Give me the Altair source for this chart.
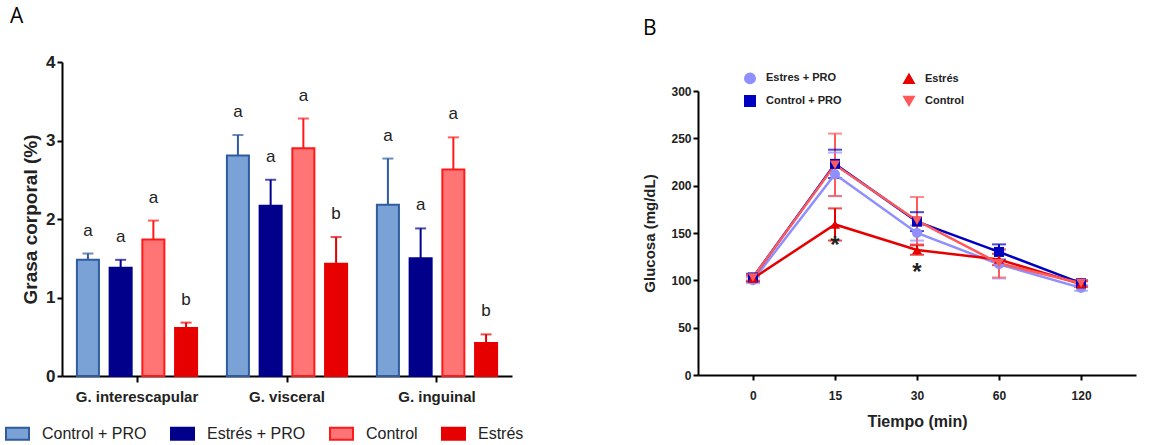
import altair as alt
import pandas as pd

# ---------------- Panel A data ----------------
groups = ["G. interescapular", "G. visceral", "G. inguinal"]
series_a = ["Control + PRO", "Estrés + PRO", "Control", "Estrés"]
fat_ctrl_pro = [1.48, 2.81, 2.18]
fat_est_pro = [1.38, 2.17, 1.50]
fat_ctrl = [1.74, 2.90, 2.63]
fat_est = [0.61, 1.43, 0.42]
err_ctrl_pro = [0.08, 0.26, 0.59]
err_est_pro = [0.10, 0.33, 0.38]
err_ctrl = [0.24, 0.38, 0.41]
err_est = [0.07, 0.34, 0.11]
letters_ctrl_pro = ["a", "a", "a"]
letters_est_pro = ["a", "a", "a"]
letters_ctrl = ["a", "a", "a"]
letters_est = ["b", "b", "b"]

fill_a = ["#7ba2d6", "#00008b", "#ff7575", "#e60000"]
stroke_a = ["#2e5c9e", "#00008b", "#ff1a1a", "#e60000"]

rows = []
for s, vals, errs, lets in zip(series_a,
                               [fat_ctrl_pro, fat_est_pro, fat_ctrl, fat_est],
                               [err_ctrl_pro, err_est_pro, err_ctrl, err_est],
                               [letters_ctrl_pro, letters_est_pro, letters_ctrl, letters_est]):
    for g, v, e, l in zip(groups, vals, errs, lets):
        rows.append({"grupo": g, "serie": s, "valor": v, "sup": v + e, "letra": l})
dfa = pd.DataFrame(rows)

FONT = "Liberation Sans"

xa = alt.X("grupo:N", sort=groups,
           scale=alt.Scale(paddingInner=0.1333, paddingOuter=0.0667),
           axis=alt.Axis(title=None, labelAngle=0, labelFont=FONT, labelFontSize=15,
                         labelFontWeight="bold", labelColor="#222", domainColor="black",
                         domainWidth=2, tickColor="black", tickWidth=2, tickSize=6,
                         labelPadding=7))
xoff = alt.XOffset("serie:N", sort=series_a,
                   scale=alt.Scale(paddingInner=0.327, paddingOuter=0.15))
ya_scale = alt.Scale(domain=[0, 4], nice=False)
ya_axis = alt.Axis(title="Grasa corporal (%)", values=[0, 1, 2, 3, 4], format="d",
                   titleFont=FONT, titleFontSize=19, titleFontWeight="bold",
                   titleColor="#222", titlePadding=5,
                   labelFont=FONT, labelFontSize=17, labelFontWeight="bold",
                   labelColor="#222", domainColor="black", domainWidth=2,
                   tickColor="black", tickWidth=2, tickSize=5, labelPadding=2,
                   grid=False)

leg_a = alt.Legend(title=None, orient="none", direction="horizontal",
                   legendX=-57, legendY=359,
                   symbolType="M-1,-0.52H1V0.52H-1Z", symbolSize=529,
                   symbolStrokeWidth=2, labelFont=FONT,
                   labelFontSize=16, labelColor="#222",
                   labelOffset=12, columnPadding=20)

bars = alt.Chart(dfa).mark_bar(strokeWidth=2).encode(
    x=xa, xOffset=xoff,
    y=alt.Y("valor:Q", scale=ya_scale, axis=ya_axis),
    fill=alt.Fill("serie:N", sort=series_a,
                  scale=alt.Scale(domain=series_a, range=fill_a), legend=leg_a),
    stroke=alt.Stroke("serie:N", sort=series_a,
                      scale=alt.Scale(domain=series_a, range=stroke_a), legend=leg_a),
)

err_color = alt.Color("serie:N", sort=series_a,
                      scale=alt.Scale(domain=series_a, range=stroke_a), legend=None)
err_rule = alt.Chart(dfa).mark_rule(strokeWidth=2).encode(
    x=xa, xOffset=xoff, y=alt.Y("valor:Q", scale=ya_scale), y2="sup:Q", color=err_color)
err_cap = alt.Chart(dfa).mark_tick(size=11, thickness=2).encode(
    x=xa, xOffset=xoff, y=alt.Y("sup:Q", scale=ya_scale), color=err_color)
lets = alt.Chart(dfa).mark_text(font=FONT, fontSize=17, color="#222",
                                baseline="alphabetic", dy=-18).encode(
    x=xa, xOffset=xoff, y=alt.Y("sup:Q", scale=ya_scale), text="letra:N")

panel_a = alt.layer(bars, err_rule, err_cap, lets).properties(
    width=450, height=314,
    title=alt.TitleParams("A", anchor="start", frame="group", dx=-52, offset=26,
                          font="Open Sans", fontSize=21, fontWeight="normal",
                          color="black"))

# ---------------- Panel B data ----------------
times = ["0", "15", "30", "60", "120"]
series_b = ["Estres + PRO", "Control + PRO", "Estrés", "Control"]
glu_est_pro = [100, 212, 150, 117, 92]
glu_ctrl_pro = [103, 223, 162, 130, 97]
glu_est = [102, 159, 132, 122, 96]
glu_ctrl = [103, 222, 163, 118, 97]
sem_est_pro = [3, 23, 8, 15, 3]
sem_ctrl_pro = [4, 15, 10, 8, 3]
sem_est = [3, 17, 5, 6, 3]
sem_ctrl = [3, 33, 25, 15, 3]
colors_b = ["#8f8fff", "#0000c0", "#e60000", "#ff5a5a"]
shapes_b = ["circle", "square", "triangle-up", "triangle-down"]
star_times = ["15", "30"]
star_y = [144, 115]

rowsb = []
for s, vals, sems in zip(series_b,
                         [glu_est_pro, glu_ctrl_pro, glu_est, glu_ctrl],
                         [sem_est_pro, sem_ctrl_pro, sem_est, sem_ctrl]):
    for t, v, e in zip(times, vals, sems):
        rowsb.append({"t": t, "serie": s, "g": v, "lo": v - e, "hi": v + e})
dfb = pd.DataFrame(rowsb)
dfs = pd.DataFrame({"t": star_times, "y": star_y})

xb = alt.X("t:O", sort=times, scale=alt.Scale(type="point", padding=0.67),
           axis=alt.Axis(title="Tiempo (min)", labelAngle=0, titleFont=FONT,
                         titleFontSize=16, titleFontWeight="bold", titleColor="#222",
                         titlePadding=12, labelFont=FONT, labelFontSize=12,
                         labelFontWeight="bold", labelColor="#222", labelPadding=10,
                         domainColor="black", domainWidth=2, tickColor="black",
                         tickWidth=2, tickSize=5))
yb_scale = alt.Scale(domain=[0, 300], nice=False)
yb_axis = alt.Axis(title="Glucosa (mg/dL)", values=list(range(0, 301, 50)),
                   titleFont=FONT, titleFontSize=15, titleFontWeight="bold",
                   titleColor="#222", titlePadding=13, labelFont=FONT, labelFontSize=12,
                   labelFontWeight="bold", labelColor="#222", domainColor="black",
                   domainWidth=2, tickColor="black", tickWidth=2, tickSize=5,
                   labelPadding=2, grid=False)
leg_b = alt.Legend(title=None, orient="none", legendX=46, legendY=10,
                   columns=2, columnPadding=58, rowPadding=5,
                   labelFont=FONT, labelFontSize=11, labelFontWeight="bold",
                   labelColor="#222", symbolSize=110, labelOffset=10,
                   symbolOpacity=1)
cb = alt.Color("serie:N", sort=series_b,
               scale=alt.Scale(domain=series_b, range=colors_b), legend=leg_b)
sb = alt.Shape("serie:N", sort=series_b,
               scale=alt.Scale(domain=series_b, range=shapes_b), legend=leg_b)

lines = alt.Chart(dfb).mark_line(strokeWidth=2.5).encode(
    x=xb, y=alt.Y("g:Q", scale=yb_scale, axis=yb_axis), color=cb)
pts = alt.Chart(dfb).mark_point(filled=True, size=100, opacity=1).encode(
    x=xb, y=alt.Y("g:Q", scale=yb_scale), color=cb, shape=sb)
erule = alt.Chart(dfb).mark_rule(strokeWidth=2).encode(
    x=xb, y=alt.Y("lo:Q", scale=yb_scale), y2="hi:Q", color=cb)
ecap_lo = alt.Chart(dfb).mark_tick(size=14, thickness=2).encode(
    x=xb, y=alt.Y("lo:Q", scale=yb_scale), color=cb)
ecap_hi = alt.Chart(dfb).mark_tick(size=14, thickness=2).encode(
    x=xb, y=alt.Y("hi:Q", scale=yb_scale), color=cb)
stars = alt.Chart(dfs).mark_text(text="*", font=FONT, fontSize=24, fontWeight="bold",
                                 color="#222", baseline="middle", dy=7).encode(
    x=xb, y=alt.Y("y:Q", scale=yb_scale))

panel_b = alt.layer(erule, ecap_lo, ecap_hi, lines, pts, stars).properties(
    width=438, height=284)

spacer_df = pd.DataFrame({"s": [0]})
spacer = alt.Chart(spacer_df).mark_point(opacity=0).encode(
    x=alt.X("s:Q", axis=None), y=alt.Y("s:Q", axis=None)).properties(
    width=438, height=29,
    title=alt.TitleParams("B", anchor="start", frame="group", dx=-55, offset=23,
                          font="Open Sans", fontSize=21, fontWeight="normal",
                          color="black"))

col_b = alt.vconcat(spacer, panel_b, spacing=0, bounds="flush")

chart = alt.hconcat(panel_a, col_b, spacing=118).resolve_scale(
    color="independent", shape="independent", fill="independent",
    stroke="independent").resolve_legend(
    color="independent", shape="independent", fill="independent",
    stroke="independent").properties(
    padding={"left": 5, "top": 6, "right": 5, "bottom": 2},
    background="white",
).configure_view(stroke=None)

chart.save("out.html", embed_options={"renderer": "svg", "actions": False})
